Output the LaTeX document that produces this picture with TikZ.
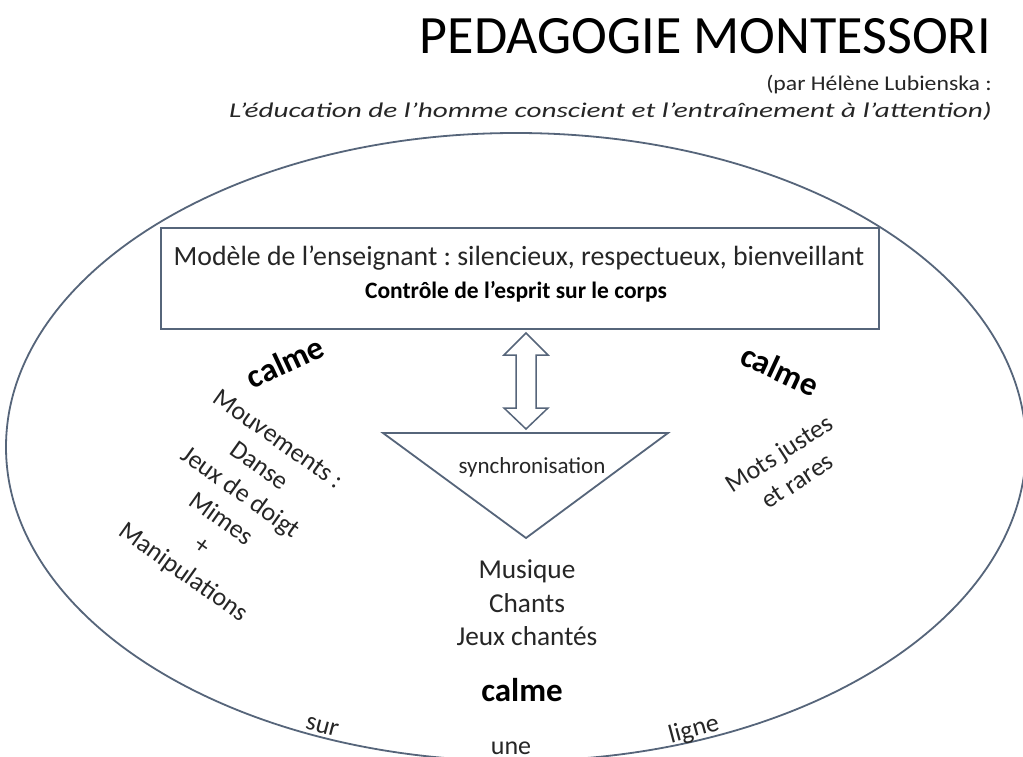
\documentclass[tikz,border=0pt]{standalone}
\usepackage{fontspec}
\setmainfont{Carlito}
\frenchspacing
\definecolor{linec}{HTML}{56657A}
\definecolor{txt}{HTML}{262626}
\tikzset{
  outline/.style={draw=linec, line width=1.8pt},
  plain/.style={inner sep=0pt, text=txt, font=\fontsize{26}{32.7}\selectfont, align=center},
  calm/.style={inner sep=0pt, text=black, font=\fontsize{33}{36}\selectfont\bfseries},
  small/.style={inner sep=0pt, text=txt, font=\fontsize{23}{26}\selectfont},
}
\begin{document}
\begin{tikzpicture}[x=1pt,y=-1pt]
\clip (0,0) rectangle (1023,757);
\fill[white] (0,0) rectangle (1023,757);
% ellipse
\draw[outline] (516,447) ellipse [x radius=510, y radius=314];
% title
\node[inner sep=0pt, anchor=base east, text=black, font=\fontsize{54}{58}\selectfont] (title) at (991,54) {PEDAGOGIE MONTESSORI};
\node[small, anchor=base east, font=\fontsize{21}{24}\selectfont] (sub1) at (992,91) {\scalebox{1.13}[1]{(par Hélène Lubienska :}};
\node[small, anchor=base east, font=\fontsize{21}{24}\selectfont\itshape] (sub2) at (992,118) {\scalebox{1.39}[1]{L’éducation de l’homme conscient et l’entraînement à l’attention)}};
% top box
\draw[outline, fill=white] (161,228) rectangle (879,329);
\node[plain, font=\fontsize{27.8}{30}\selectfont] (model) at (519,258) {Modèle de l’enseignant : silencieux, respectueux, bienveillant};
\node[inner sep=0pt, text=black, font=\fontsize{23.5}{26}\selectfont\bfseries] (ctrl) at (516,292) {Contrôle de l’esprit sur le corps};
% double arrow
\coordinate (atop) at (526,333);
\coordinate (abot) at (526,429);
\draw[outline, line width=1.5pt, fill=white, line join=miter]
  (526,333) -- (548,355) -- (536,355) -- (536,408) -- (548,408) -- (526,429)
  -- (504,408) -- (516,408) -- (516,355) -- (504,355) -- cycle;
% triangle
\draw[outline, fill=white, line join=miter] (383,433) -- (668,433) -- (526,538) -- cycle;
\node[small, text=txt] (sync) at (532,467) {synchronisation};
% left block
\node[calm, rotate=25] (calmL) at (285,362) {calme};
\node[plain, rotate=-35.5] (left) at (230,507) {Mouvements :\\Danse\\Jeux de doigt\\Mimes\\+\\Manipulations};
% right block
\node[calm, rotate=-25] (calmR) at (780,370) {calme};
\node[plain, rotate=33] (right) at (788,467) {Mots justes\\et rares};
% bottom
\node[plain, font=\fontsize{27.3}{33.5}\selectfont] (music) at (527,603) {Musique\\Chants\\Jeux chantés};
\node[calm] (calmB) at (522,690) {calme};
\node[plain, rotate=-15] (sur) at (322,727) {sur};
\node[plain] (une) at (511,748) {une};
\node[plain, rotate=15] (ligne) at (694,730) {ligne};
\end{tikzpicture}
\end{document}
